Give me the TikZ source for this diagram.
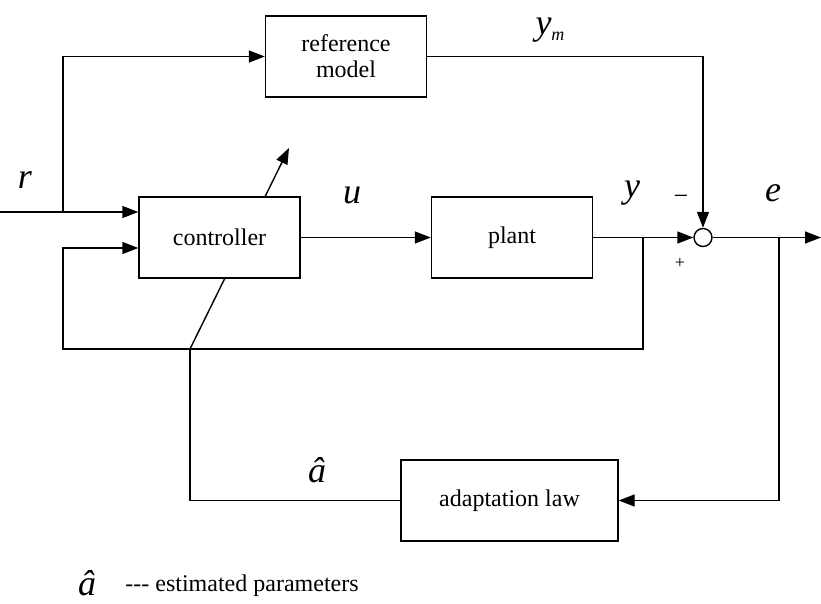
\documentclass[tikz,border=0pt]{standalone}
\usepackage{fontspec}
\setmainfont{Liberation Serif}
\usepackage{tikz}
\usetikzlibrary{arrows.meta,positioning,calc,backgrounds}
\tikzset{
  block/.style={rectangle,draw=black,line width=0.7pt,fill=white,
                minimum width=80.5pt,minimum height=40.5pt,inner sep=2pt,
                align=center,font=\fontsize{12}{13}\selectfont},
  sumpt/.style={circle,draw=black,line width=0.7pt,fill=white,
                minimum size=9pt,inner sep=0pt},
  sig/.style={-{Triangle[length=8pt,width=6pt]},line width=0.7pt},
  wire/.style={line width=0.7pt},
  var/.style={font=\fontsize{18}{18}\selectfont\itshape,inner sep=0pt},
  sgn/.style={font=\fontsize{9}{9}\selectfont,inner sep=0pt},
}

\begin{document}
\begin{tikzpicture}[x=0.5pt,y=-0.5pt]
  \useasboundingbox (0,0) rectangle (821,604);
  \node[block] (ref) at (346,56.5) {reference\\model};
  \node[block] (ctrl) at (219.5,237.5) {controller};
  \node[block] (plant) at (512,237.5) {plant};
  \node[sumpt] (sum) at (703,237.5) {};
  \node[block,minimum width=108.5pt,minimum height=40.5pt] (adapt) at (509.5,500.5) {adaptation law};
  \coordinate (in) at (0,212);
  \coordinate (split) at (63,212);
  \coordinate (fbin) at (63,248);
  \coordinate (ytap) at (643,237.5);
  \coordinate (etap) at (779,237.5);
  \coordinate (out) at (821,237.5);
  \coordinate (tune) at (190,349);
  \coordinate (tunetip) at (289,148);
  % signal paths
  \draw[sig] (in) -- (in -| ctrl.west);
  \draw[sig] (split) |- (ref.west);
  \draw[sig] (ctrl.east) -- (plant.west);
  \draw[sig] (plant.east) -- (sum.west);
  \draw[sig] (ref.east) -| (sum.north);
  \draw[sig] (sum.east) -- (out);
  \draw[sig] (ytap) -- ++(0,111.5) -| (fbin) -- (fbin -| ctrl.west);
  \draw[sig] (etap) |- (adapt.east);
  \draw[wire] (adapt.west) -| (tune);
  \begin{scope}[on background layer]
    \draw[sig] (tune) -- (tunetip);
  \end{scope}
  % labels
  \node[var] (lr) at (25,180) {r};
  \node[var] (lu) at (352,195) {u};
  \node[var] (ly) at (632,193) {y};
  \node[var] (lym) at (550,30) {y\raisebox{-3pt}{\fontsize{9}{9}\selectfont m}};
  \node[var] (le) at (773,193) {e};
  \node[sgn,font=\fontsize{13}{13}\selectfont] (lminus) at (681,200) {−};
  \node[sgn] (lplus) at (680,263) {+};
  \node[var] (lahat) at (317,470) {â};
  \node[var] (keya) at (87,583) {â};
  \node[anchor=west,inner sep=0pt,font=\fontsize{12}{13}\selectfont] (keytxt) at (125,586) {-{}-{}- estimated parameters};
\end{tikzpicture}
\end{document}
